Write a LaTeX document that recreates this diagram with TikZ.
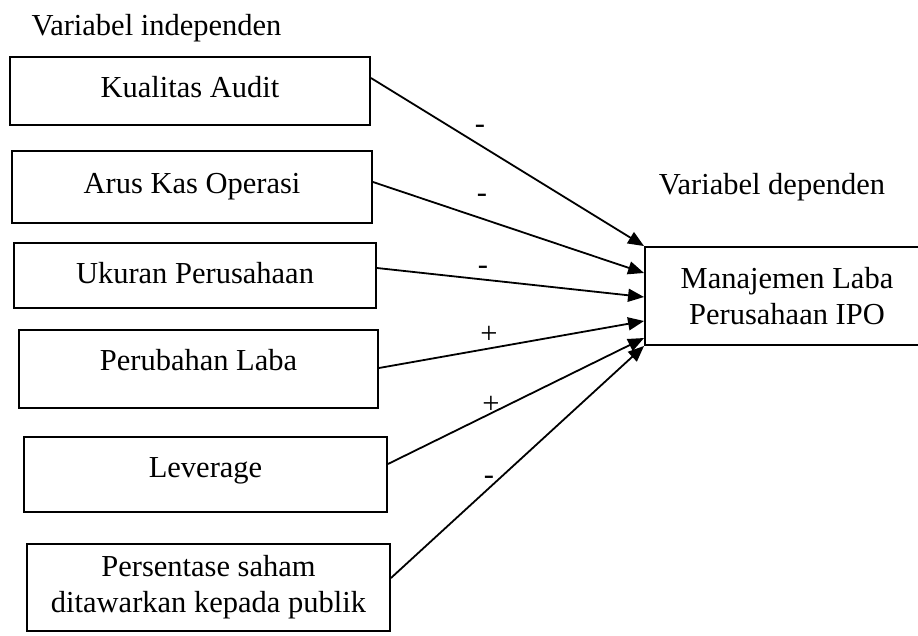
\documentclass[tikz,border=0pt]{standalone}
\usepackage{fontspec}
\setmainfont{Liberation Serif}
\usetikzlibrary{arrows.meta}
\begin{document}
\begin{tikzpicture}[x=1pt,y=-1pt,
  every node/.style={font=\fontsize{30.5}{36}\selectfont},
  varbox/.style={draw, line width=1.9pt, rectangle, inner sep=0pt, align=center},
  titletext/.style={anchor=base, inner sep=0pt},
  signtext/.style={anchor=base, inner sep=0pt},
  link/.style={line width=1.8pt, -{Triangle[length=16pt,width=13pt]}}]
\clip (0,0) rectangle (918,635);
% titles
\node[titletext] (tind) at (156.5,35) {Variabel independen};
\node[titletext] (tdep) at (772,194) {Variabel dependen};
% independent variables
\node[varbox, minimum width=360pt, minimum height=68pt, text height=19pt, text depth=6pt] (k1) at (190,91) {Kualitas Audit};
\node[varbox, minimum width=360pt, minimum height=72pt, text height=19pt, text depth=6pt] (k2) at (192,187) {Arus Kas Operasi};
\node[varbox, minimum width=362pt, minimum height=65pt, text height=22pt, text depth=6pt] (k3) at (195,275.5) {Ukuran Perusahaan};
\node[varbox, minimum width=359pt, minimum height=78pt, text height=8pt, text depth=6pt] (k4) at (198.5,369) {Perubahan Laba};
\node[varbox, minimum width=363pt, minimum height=75pt, text height=12pt, text depth=6pt] (k5) at (205.5,474.5) {Leverage};
\node[varbox, minimum width=363pt, minimum height=87pt] (k6) at (208.5,587.5) {Persentase saham\\ditawarkan kepada publik};
% dependent variable
\node[varbox, minimum width=284pt, minimum height=98pt] (dep) at (787,296) {Manajemen Laba\\Perusahaan IPO};
% connectors
\draw[link] (k1.east |- 0,78) -- (dep.north west);
\draw[link] (k2.east |- 0,182) -- (dep.west |- 0,273);
\draw[link] (k3.east |- 0,268) -- (dep.west |- 0,297);
\draw[link] (k4.east |- 0,368) -- (dep.west |- 0,321);
\draw[link] (k5.east |- 0,464) -- (dep.west |- 0,338);
\draw[link] (k6.east |- 0,578) -- (dep.south west);
% signs
\node[signtext] (s1) at (480,133) {-};
\node[signtext] (s2) at (482,202) {-};
\node[signtext] (s3) at (483,274) {-};
\node[signtext] (s4) at (489,343) {+};
\node[signtext] (s5) at (491,413) {+};
\node[signtext] (s6) at (489,484) {-};
\end{tikzpicture}
\end{document}
